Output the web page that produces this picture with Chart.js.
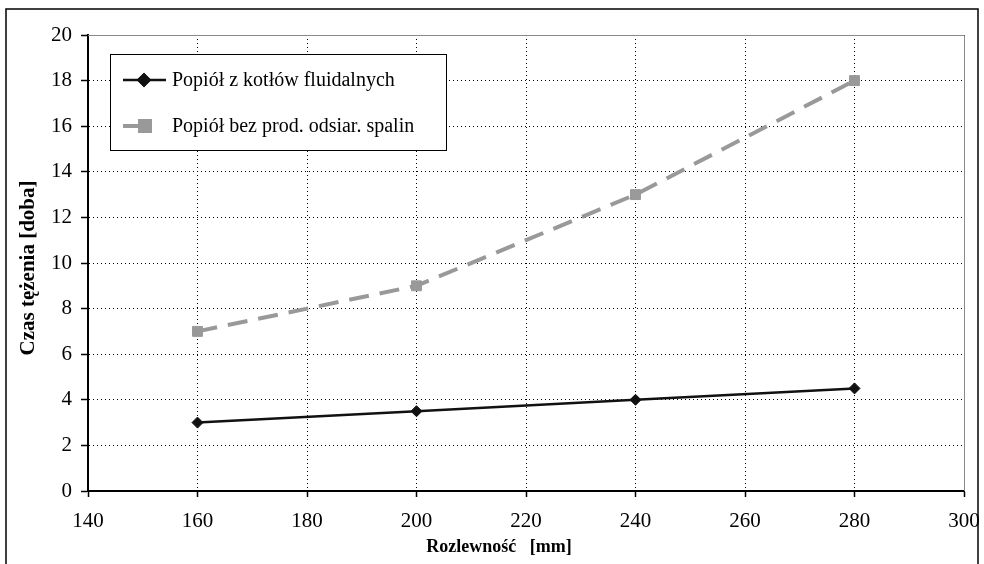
<!DOCTYPE html>
<html>
<head>
<meta charset="utf-8">
<script src="https://cdn.jsdelivr.net/npm/chart.js@4/dist/chart.umd.min.js"></script>
<style>
  body { margin: 0; background: #fff; }
  canvas { display: block; }
</style>
</head>
<body>
<canvas id="czasChart" width="984" height="564"></canvas>
<script>
// data
var rozlewnosc = [160, 200, 240, 280];
var fluidalne = [3, 3.5, 4, 4.5];
var bezOdsiarczania = [7, 9, 13, 18];
var seriesNames = ['Popiół z kotłów fluidalnych', 'Popiół bez prod. odsiar. spalin'];
var xTitle = 'Rozlewność   [mm]';
var yTitle = 'Czas tężenia [doba]';

var FONT = '"Liberation Serif", "Times New Roman", serif';

function toPoints(xs, ys) {
    return xs.map(function (x, i) { return { x: x, y: ys[i] }; });
}

// outer frame, grey plot frame, titles and the boxed legend
var frameAndLegend = {
    id: 'frameAndLegend',
    beforeDraw: function (chart) {
        var ctx = chart.ctx;
        ctx.save();
        ctx.fillStyle = '#fff';
        ctx.fillRect(0, 0, chart.width, chart.height);
        ctx.strokeStyle = '#000';
        ctx.lineWidth = 1.5;
        ctx.strokeRect(6, 9, 972, 570);
        ctx.restore();
    },
    beforeDatasetsDraw: function (chart) {
        var ctx = chart.ctx, a = chart.chartArea;
        ctx.save();
        ctx.strokeStyle = '#8a8a8a';
        ctx.lineWidth = 1;
        ctx.beginPath();
        ctx.moveTo(a.left, a.top + 0.5);
        ctx.lineTo(a.right + 0.5, a.top + 0.5);
        ctx.lineTo(a.right + 0.5, a.bottom);
        ctx.stroke();
        ctx.restore();
    },
    afterDraw: function (chart) {
        var ctx = chart.ctx;
        ctx.save();
        // axis titles
        ctx.fillStyle = '#000';
        ctx.font = 'bold 18px ' + FONT;
        ctx.textAlign = 'center';
        ctx.textBaseline = 'middle';
        ctx.fillText(xTitle, 499, 547);
        ctx.translate(29, 268);
        ctx.rotate(-Math.PI / 2);
        ctx.font = 'bold 21px ' + FONT;
        ctx.fillText(yTitle, 0, 0);
        ctx.restore();

        // legend box
        ctx.save();
        ctx.fillStyle = '#fff';
        ctx.fillRect(110, 54, 336, 96);
        ctx.strokeStyle = '#000';
        ctx.lineWidth = 1;
        ctx.strokeRect(110.5, 54.5, 336, 96);
        var rows = [80, 126];
        chart.data.datasets.forEach(function (ds, i) {
            var y = rows[i];
            ctx.strokeStyle = ds.borderColor;
            ctx.lineWidth = ds.borderWidth;
            ctx.setLineDash([]);
            ctx.beginPath();
            ctx.moveTo(123, y);
            ctx.lineTo(i === 0 ? 166 : 141, y);
            ctx.stroke();
            var px = i === 0 ? 144 : 145;
            Chart.helpers.drawPoint(ctx, {
                pointStyle: ds.pointStyle,
                radius: ds.pointRadius,
                borderWidth: 1,
                rotation: 0
            }, px, y);
            ctx.fillStyle = ds.pointBackgroundColor;
            ctx.strokeStyle = ds.pointBorderColor;
            ctx.fill();
            ctx.stroke();
            ctx.fillStyle = '#000';
            ctx.font = '20px ' + FONT;
            ctx.textAlign = 'left';
            ctx.textBaseline = 'middle';
            ctx.fillText(ds.label, 172, y + 1);
        });
        ctx.restore();
    }
};

var ctx = document.getElementById('czasChart').getContext('2d');
var chart = new Chart(ctx, {
    type: 'line',
    data: {
        datasets: [{
            label: seriesNames[0],
            data: toPoints(rozlewnosc, fluidalne),
            borderColor: '#111',
            borderWidth: 2.5,
            pointStyle: 'rectRot',
            pointRadius: 5.5,
            pointBackgroundColor: '#111',
            pointBorderColor: '#111',
            pointBorderWidth: 1,
            tension: 0
        }, {
            label: seriesNames[1],
            data: toPoints(rozlewnosc, bezOdsiarczania),
            borderColor: '#999',
            borderWidth: 4,
            borderDash: [20, 11],
            pointStyle: 'rect',
            pointRadius: 7,
            pointBackgroundColor: '#999',
            pointBorderColor: '#999',
            pointBorderWidth: 1,
            tension: 0
        }]
    },
    options: {
        responsive: false,
        animation: false,
        layout: { padding: { left: 0, top: 35, right: 20, bottom: 0 } },
        plugins: {
            legend: { display: false },
            tooltip: { enabled: false }
        },
        scales: {
            x: {
                type: 'linear',
                min: 140,
                max: 300,
                afterFit: function (s) {
                    s.height = 73;
                    s.paddingLeft = 0;
                    s.paddingRight = 0;
                },
                ticks: {
                    stepSize: 20,
                    color: '#000',
                    padding: 12,
                    maxRotation: 0,
                    font: { family: FONT, size: 21 }
                },
                grid: {
                    color: '#000',
                    lineWidth: 1,
                    tickColor: '#000',
                    tickLength: 6,
                    tickWidth: 1.5,
                    tickBorderDash: []
                },
                border: { display: true, color: '#000', width: 2, dash: [1, 3] }
            },
            y: {
                min: 0,
                max: 20,
                afterFit: function (s) {
                    s.width = 88;
                    s.paddingTop = 0;
                    s.paddingBottom = 0;
                },
                ticks: {
                    stepSize: 2,
                    color: '#000',
                    padding: 9,
                    font: { family: FONT, size: 21 }
                },
                grid: {
                    color: '#000',
                    lineWidth: 1,
                    tickColor: '#000',
                    tickLength: 7,
                    tickWidth: 1.5,
                    tickBorderDash: []
                },
                border: { display: true, color: '#000', width: 2, dash: [1, 3] }
            }
        }
    },
    plugins: [frameAndLegend]
});
</script>
</body>
</html>
